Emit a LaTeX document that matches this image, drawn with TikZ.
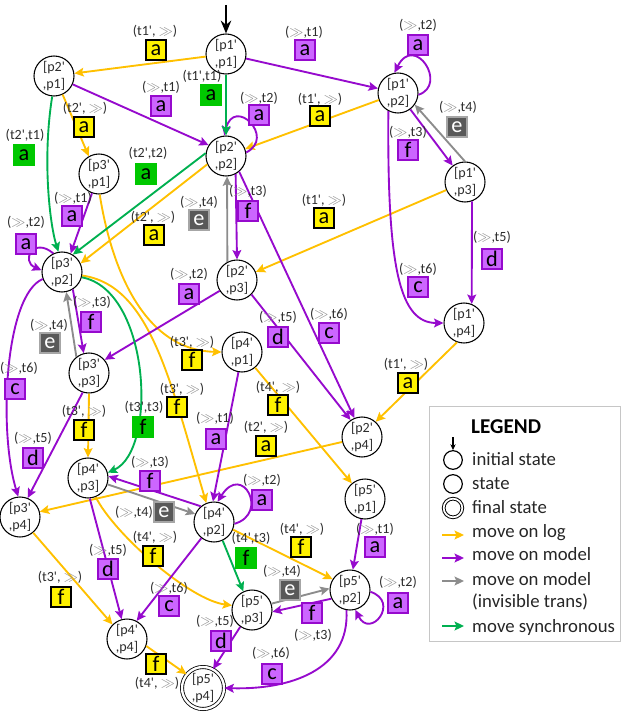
\documentclass[tikz,border=0pt]{standalone}
\usepackage{fontspec}
\setmainfont{Carlito}
\usepackage{tikz}
\usetikzlibrary{arrows.meta,positioning}
\definecolor{clrLog}{RGB}{255,192,0}
\definecolor{clrMod}{RGB}{150,10,205}
\definecolor{clrModB}{RGB}{204,102,255}
\definecolor{clrInv}{RGB}{140,140,140}
\definecolor{clrInvB}{RGB}{89,89,89}
\definecolor{clrSyn}{RGB}{0,176,80}
\definecolor{clrSynB}{RGB}{0,200,0}
\definecolor{clrTxt}{RGB}{45,45,45}
\newcommand{\skp}{\textcolor{clrInv}{$\gg$}}
\newcommand{\pr}{\textquotesingle}
\newcommand{\pair}[2]{[#1\pr\\,#2]}
\newcommand{\mv}[6]{\node[#2] (#1) at (#3) {#4};
  \node[lbl] (#1t) at (#5) {#6};}
\tikzset{
  state/.style={circle,draw=black,line width=0.9pt,fill=white,minimum size=1.2cm,
    inner sep=0pt,align=center,text=clrTxt,font=\fontsize{12}{14}\selectfont},
  final/.style={state,double,double distance=2pt,line width=0.7pt,minimum size=1.26cm},
  tip/.style={-{Stealth[length=8pt,width=7.5pt,inset=1.5pt]}},
  log/.style={tip,draw=clrLog,line width=1.6pt},
  model/.style={tip,draw=clrMod,line width=1.6pt},
  invis/.style={tip,draw=clrInv,line width=1.6pt},
  sync/.style={tip,draw=clrSyn,line width=1.6pt},
  initA/.style={-{Stealth[length=11pt,width=9pt]},line width=1.5pt,draw=black},
  box/.style={rectangle,minimum size=0.6cm,inner sep=0pt,
    font=\fontsize{19}{19}\selectfont,line width=0.9pt},
  boxLog/.style={box,fill=yellow,draw=black},
  boxMod/.style={box,fill=clrModB,draw=clrMod},
  boxInv/.style={box,fill=clrInvB,draw=gray!70,text=white},
  boxSyn/.style={box,fill=clrSynB,draw=clrSynB},
  lbl/.style={font=\fontsize{12}{14}\selectfont,text=clrTxt,inner sep=0pt},
  legtext/.style={anchor=base west,font=\fontsize{16}{18}\selectfont,text=black!85,inner sep=0pt},
  legstate/.style={circle,draw=black,line width=1pt,minimum size=0.56cm,inner sep=0pt}
}
\begin{document}
\begin{tikzpicture}[x=0.03cm,y=-0.03cm]
  \useasboundingbox (0,0) rectangle (630,712);
  % states
  \node[state] (p1p1) at (226,54) {\pair{p1}{p1}};
  \node[state] (p2p1) at (54,76) {\pair{p2}{p1}};
  \node[state] (p1p2) at (398,93) {\pair{p1}{p2}};
  \node[state] (p2p2) at (226,156) {\pair{p2}{p2}};
  \node[state] (p3p1) at (99,174) {\pair{p3}{p1}};
  \node[state] (p1p3) at (465,182) {\pair{p1}{p3}};
  \node[state] (p3p2) at (62,272) {\pair{p3}{p2}};
  \node[state] (p2p3) at (237,280) {\pair{p2}{p3}};
  \node[state] (p4p1) at (242,352) {\pair{p4}{p1}};
  \node[state] (p1p4) at (464,323) {\pair{p1}{p4}};
  \node[state] (p3p3) at (89,373) {\pair{p3}{p3}};
  \node[state] (p2p4) at (362,437) {\pair{p2}{p4}};
  \node[state] (p4p3) at (88,478) {\pair{p4}{p3}};
  \node[state] (p3p4) at (20,517) {\pair{p3}{p4}};
  \node[state] (p5p1) at (365,499) {\pair{p5}{p1}};
  \node[state] (p4p2) at (214,522) {\pair{p4}{p2}};
  \node[state] (p5p2) at (350,590) {\pair{p5}{p2}};
  \node[state] (p5p3) at (252,610) {\pair{p5}{p3}};
  \node[state] (p4p4) at (127,639) {\pair{p4}{p4}};
  \node[final] (p5p4) at (203,688) {\pair{p5}{p4}};
  \coordinate (start) at (226,5);
  \draw[initA] (start) -- (p1p1);
  % moves on log
  \draw[log] (p1p1) -- (p2p1);
  \draw[log] (p1p2) -- (p2p2);
  \draw[log] (p1p3) -- (p2p3);
  \draw[log] (p1p4.-110) -- (p2p4.48);
  \draw[log] (p2p1.-65) -- (p3p1.120);
  \draw[log] (p2p2.204) -- (p3p2.25);
  \draw[log] (p2p4.194) -- (p3p4.15);
  \draw[log] (p3p1.-88) .. controls (110,260) and (140,350) .. (p4p1.west);
  \draw[log] (p3p2.-10) .. controls (150,285) and (170,380) .. (p4p2.112);
  \draw[log] (p3p3.south) -- (p4p3.north);
  \draw[log] (p3p4.-50) -- (p4p4.135);
  \draw[log] (p4p1.-50) -- (p5p1.130);
  \draw[log] (p4p2.-22) -- (p5p2.148);
  \draw[log] (p4p3.-68) .. controls (115,535) and (190,600) .. (p5p3.167);
  \draw[log] (p4p4.-20) -- (p5p4.140);
  % moves on model
  \draw[model] (p1p1) -- (p1p2);
  \draw[model] (p2p1) -- (p2p2.148);
  \draw[model] (p2p2.10) .. controls +(30,-15) and +(10,-40) .. (p2p2.95);
  \draw[model] (p1p2.-5) .. controls +(30,-10) and +(20,-40) .. (p1p2.100);
  \draw[model] (p1p2) -- (p1p3);
  \draw[model] (p1p3.-70) -- (p1p4.68);
  \draw[model] (p1p2.-118) .. controls (387,270) and (400,323) .. (p1p4.west);
  \draw[model] (p2p2.-62) -- (p2p3.north);
  \draw[model] (p2p2.-50) -- (p2p4.112);
  \draw[model] (p2p3.-45) -- (p2p4.124);
  \draw[model] (p2p3.212) -- (p3p3.40);
  \draw[model] (p3p1.-110) -- (p3p2.65);
  \draw[model] (p3p2.115) .. controls +(-20,-17) and +(-21,-9) .. (p3p2.175);
  \draw[model] (p3p2.-58) -- (p3p3.105);
  \draw[model] (p3p2.200) .. controls (5,295) and (-2,430) .. (p3p4.95);
  \draw[model] (p3p3.-108) -- (p3p4.68);
  \draw[model] (p4p1.-100) -- (p4p2.93);
  \draw[model] (p4p2.130) -- (p4p3.5);
  \draw[model] (p4p2.-5) .. controls +(35,-10) and +(25,-40) .. (p4p2.80);
  \draw[model] (p4p3.-85) -- (p4p4.105);
  \draw[model] (p4p2.-128) -- (p4p4.62);
  \draw[model] (p5p1.-100) -- (p5p2.82);
  \draw[model] (p5p2.-5) .. controls +(30,10) and +(15,30) .. (p5p2.-75);
  \draw[model] (p5p2.205) -- (p5p3.-5);
  \draw[model] (p5p3.-125) -- (p5p4.62);
  \draw[model] (p5p2.-100) .. controls (350,670) and (290,690) .. (p5p4.east);
  % moves on model, invisible
  \draw[invis] (p1p3.north) -- (p1p2.-35);
  \draw[invis] (p2p3.118) -- (p2p2.-87);
  \draw[invis] (p3p3.128) -- (p3p2.-78);
  \draw[invis] (p4p3.-18) -- (p4p2.157);
  \draw[invis] (p5p3.18) -- (p5p2.176);
  % synchronous moves
  \draw[sync] (p1p1) -- (p2p2);
  \draw[sync] (p2p1.-95) .. controls (42,160) and (50,225) .. (p3p2.100);
  \draw[sync] (p2p2.172) -- (p3p2.58);
  \draw[sync] (p3p2.-15) .. controls (150,290) and (158,450) .. (p4p3.15);
  \draw[sync] (p4p2.-65) -- (p5p3.115);
  % labels
  \mv{lg1}{boxLog}{156,50}{a}{155,31}{(t1\pr, \skp)}
  \mv{lg2}{boxLog}{320,116}{a}{320,99}{(t1\pr, \skp)}
  \mv{lg3}{boxLog}{324,218}{a}{324,200}{(t1\pr, \skp)}
  \mv{lg4}{boxLog}{408,383}{a}{406,364}{(t1\pr, \skp)}
  \mv{lg5}{boxLog}{84,127}{a}{85,108}{(t2\pr, \skp)}
  \mv{lg6}{boxLog}{154,235}{a}{153,217}{(t2\pr, \skp)}
  \mv{lg7}{boxLog}{266,446}{a}{266,427}{(t2\pr, \skp)}
  \mv{lg8}{boxLog}{192,360}{f}{192,342}{(t3\pr, \skp)}
  \mv{lg9}{boxLog}{177,407}{f}{182,389}{(t3\pr, \skp)}
  \mv{lg10}{boxLog}{84,430}{f}{84,411}{(t3\pr, \skp)}
  \mv{lg11}{boxLog}{61,597}{f}{60,577}{(t3\pr, \skp)}
  \mv{lg12}{boxLog}{278,405}{f}{278,387}{(t4\pr, \skp)}
  \mv{lg13}{boxLog}{301,547}{f}{302,529}{(t4\pr, \skp)}
  \mv{lg14}{boxLog}{153,556}{f}{155,537}{(t4\pr, \skp)}
  \mv{lg15}{boxLog}{156,664}{f}{157,683}{(t4\pr, \skp)}
  \mv{md1}{boxMod}{305,50}{a}{304,32}{(\skp,t1)}
  \mv{md2}{boxMod}{161,106}{a}{161,87}{(\skp,t1)}
  \mv{md3}{boxMod}{259,115}{a}{259,98}{(\skp,t2)}
  \mv{md4}{boxMod}{418,45}{a}{418,25}{(\skp,t2)}
  \mv{md5}{boxMod}{408,150}{f}{408,132}{(\skp,t3)}
  \mv{md6}{boxMod}{492,259}{d}{492,237}{(\skp,t5)}
  \mv{md7}{boxMod}{418,287}{c}{418,269}{(\skp,t6)}
  \mv{md8}{boxMod}{248,211}{f}{248,191}{(\skp,t3)}
  \mv{md9}{boxMod}{329,333}{c}{329,314}{(\skp,t6)}
  \mv{md10}{boxMod}{278,337}{d}{278,317}{(\skp,t5)}
  \mv{md11}{boxMod}{189,294}{a}{189,274}{(\skp,t2)}
  \mv{md12}{boxMod}{72,216}{a}{73,198}{(\skp,t1)}
  \mv{md13}{boxMod}{26,244}{a}{26,222}{(\skp,t2)}
  \mv{md14}{boxMod}{91,322}{f}{92,302}{(\skp,t3)}
  \mv{md15}{boxMod}{15,389}{c}{19,368}{(\skp,t6)}
  \mv{md16}{boxMod}{33,458}{d}{33,438}{(\skp,t5)}
  \mv{md17}{boxMod}{216,439}{a}{215,418}{(\skp,t1)}
  \mv{md18}{boxMod}{150,481}{f}{150,462}{(\skp,t3)}
  \mv{md19}{boxMod}{262,500}{a}{262,480}{(\skp,t2)}
  \mv{md20}{boxMod}{108,569}{d}{108,550}{(\skp,t5)}
  \mv{md21}{boxMod}{169,606}{c}{169,588}{(\skp,t6)}
  \mv{md22}{boxMod}{375,547}{a}{375,529}{(\skp,t1)}
  \mv{md23}{boxMod}{398,603}{a}{398,582}{(\skp,t2)}
  \mv{md24}{boxMod}{312,613}{f}{313,635}{(\skp,t3)}
  \mv{md25}{boxMod}{221,641}{d}{215,621}{(\skp,t5)}
  \mv{md26}{boxMod}{272,674}{c}{271,653}{(\skp,t6)}
  \mv{iv1}{boxInv}{457,127}{e}{458,107}{(\skp,t4)}
  \mv{iv2}{boxInv}{199,220}{e}{199,202}{(\skp,t4)}
  \mv{iv3}{boxInv}{50,343}{e}{49,325}{(\skp,t4)}
  \mv{iv4}{boxInv}{164,512}{e}{134,512}{(\skp,t4)}
  \mv{iv5}{boxInv}{290,590}{e}{282,571}{(\skp,t4)}
  \mv{sy1}{boxSyn}{211,95}{a}{202,76}{(t1\pr,t1)}
  \mv{sy2}{boxSyn}{24,155}{a}{25,135}{(t2\pr,t1)}
  \mv{sy3}{boxSyn}{146,174}{a}{148,153}{(t2\pr,t2)}
  \mv{sy4}{boxSyn}{143,427}{f}{144,407}{(t3\pr,t3)}
  \mv{sy5}{boxSyn}{246,558}{f}{251,538}{(t4\pr,t3)}
  % legend
  \draw[gray!45,line width=0.7pt] (429,406) rectangle (620,641);
  \node[anchor=base west,inner sep=0pt,font=\bfseries\fontsize{18}{20}\selectfont] (legTitle) at (471,433) {LEGEND};
  \node[legstate] (legInit) at (453,460) {};
  \coordinate (legInitTop) at (453,437);
  \draw[-{Stealth[length=5pt,width=4.5pt]},line width=1pt] (legInitTop) -- (legInit);
  \node[legtext] (legInitT) at (472,465) {initial state};
  \node[legstate] (legState) at (453,484) {};
  \node[legtext] (legStateT) at (472,489) {state};
  \node[legstate,double,double distance=1.5pt,line width=0.8pt] (legFinal) at (453,508) {};
  \node[legtext] (legFinalT) at (472,513) {final state};
  \coordinate (legLogA) at (442,535);
  \coordinate (legLogB) at (464,535);
  \draw[log] (legLogA) -- (legLogB);
  \node[legtext] (legLogT) at (472,537) {move on log};
  \coordinate (legModA) at (442,558);
  \coordinate (legModB) at (464,558);
  \draw[model] (legModA) -- (legModB);
  \node[legtext] (legModT) at (472,560) {move on model};
  \coordinate (legInvA) at (442,581);
  \coordinate (legInvB) at (464,581);
  \draw[invis] (legInvA) -- (legInvB);
  \node[legtext] (legInvT) at (472,585) {move on model};
  \node[legtext] (legInvT2) at (472,607) {(invisible trans)};
  \coordinate (legSynA) at (442,626);
  \coordinate (legSynB) at (464,626);
  \draw[sync] (legSynA) -- (legSynB);
  \node[legtext] (legSynT) at (472,632) {move synchronous};
\end{tikzpicture}
\end{document}
